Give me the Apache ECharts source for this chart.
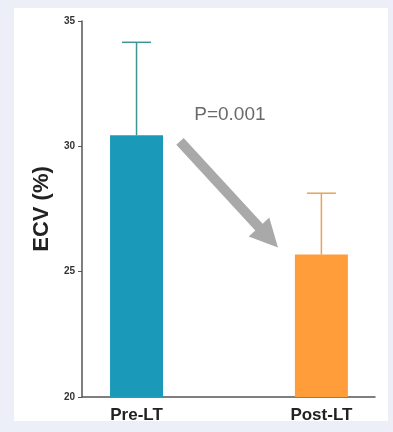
<!DOCTYPE html>
<html><head><meta charset="utf-8">
<script src="https://cdn.jsdelivr.net/npm/echarts@6/dist/echarts.min.js"></script>
<style>html,body{margin:0;padding:0;background:#eceff8;}#c{width:393px;height:432px;}</style>
</head><body><div id="c"></div>
<script>
const categories = ['Pre-LT', 'Post-LT'];
const means = [30.44, 25.68];
const upperErr = [34.15, 28.13];
const yTicks = [20, 25, 30, 35];
const pLabel = 'P=0.001';
const barColors = ['#1a9ab8', '#ff9d3a'];
const errColors = ['#3f9494', '#e8a259'];

const chart = echarts.init(document.getElementById('c'));
const panel = {type:'rect', z:-10, shape:{x:14,y:8,width:374,height:413}, style:{fill:'#ffffff'}};
const option = {
  animation: false,
  backgroundColor: '#eceff8',
  graphic: [panel],
  grid: {left: 82, right: 18, top: 21, bottom: 35},
  xAxis: {
    type: 'value', min: -0.295, max: 1.29,
    splitLine: {show: false},
    axisLine: {show: true, onZero: false, lineStyle: {color: '#555', width: 1.5}},
    axisTick: {show: false},
    axisLabel: {customValues: [0, 1], formatter: v => categories[Math.round(v)] || '',
      color: '#222', fontSize: 17, fontWeight: 'bold', fontFamily: 'Liberation Sans', margin: 10}
  },
  yAxis: {
    type: 'value', min: 20, max: 35, interval: 5,
    splitLine: {show: false},
    axisLine: {show: true, onZero: false, lineStyle: {color: '#555', width: 1.5}},
    axisTick: {show: true, length: 4, lineStyle: {color: '#555'}},
    axisLabel: {color: '#333', fontSize: 10, fontWeight: 'bold', margin: 7, fontFamily: 'Liberation Sans Narrow, Liberation Sans'},
    name: 'ECV (%)', nameLocation: 'middle', nameGap: 28,
    nameTextStyle: {color: '#222', fontSize: 22, fontWeight: 'bold', fontFamily: 'Liberation Sans'}
  },
  series: [
    {
      type: 'bar', barWidth: 53,
      data: means.map((v, i) => ({value: [i, v], itemStyle: {color: barColors[i]}})),
      z: 2
    },
    {
      type: 'custom', z: 1,
      data: means.map((v, i) => [i, v, upperErr[i]]),
      renderItem: (params, api) => {
        const i = api.value(0);
        const base = api.coord([i, api.value(1)]);
        const top = api.coord([i, api.value(2)]);
        const col = errColors[params.dataIndex];
        return {type: 'group', children: [
          {type: 'line', shape: {x1: base[0], y1: base[1], x2: top[0], y2: top[1]}, style: {stroke: col, lineWidth: 1.5}},
          {type: 'line', shape: {x1: top[0] - 14.5, y1: top[1], x2: top[0] + 14.5, y2: top[1]}, style: {stroke: col, lineWidth: 1.5}}
        ]};
      }
    }
  ]
};
chart.setOption(option);

// annotation arrow and p-value placed from data coordinates
const a = chart.convertToPixel({gridIndex: 0}, [0.235, 30.2]);
const b = chart.convertToPixel({gridIndex: 0}, [0.765, 25.96]);
const dx = b[0] - a[0], dy = b[1] - a[1];
const L = Math.hypot(dx, dy), ux = dx / L, uy = dy / L, nx = -uy, ny = ux;
const shaftW = 5, headW = 14, headL = 28;
const hb = [b[0] - ux * headL, b[1] - uy * headL];
const pts = [
  [a[0] + nx * shaftW, a[1] + ny * shaftW],
  [hb[0] + nx * shaftW, hb[1] + ny * shaftW],
  [hb[0] + nx * headW, hb[1] + ny * headW],
  [b[0], b[1]],
  [hb[0] - nx * headW, hb[1] - ny * headW],
  [hb[0] - nx * shaftW, hb[1] - ny * shaftW],
  [a[0] - nx * shaftW, a[1] - ny * shaftW]
];
const tp = chart.convertToPixel({gridIndex: 0}, [0.505, 31.24]);
chart.setOption({graphic: [
  panel,
  {type: 'polygon', shape: {points: pts}, style: {fill: '#a9a9a9'}, z: 5},
  {type: 'text', x: tp[0], y: tp[1], style: {text: pLabel, fill: '#6a6a6a', fontSize: 19, fontFamily: 'Liberation Sans', align: 'center', verticalAlign: 'middle'}, z: 5}
]});
</script></body></html>
